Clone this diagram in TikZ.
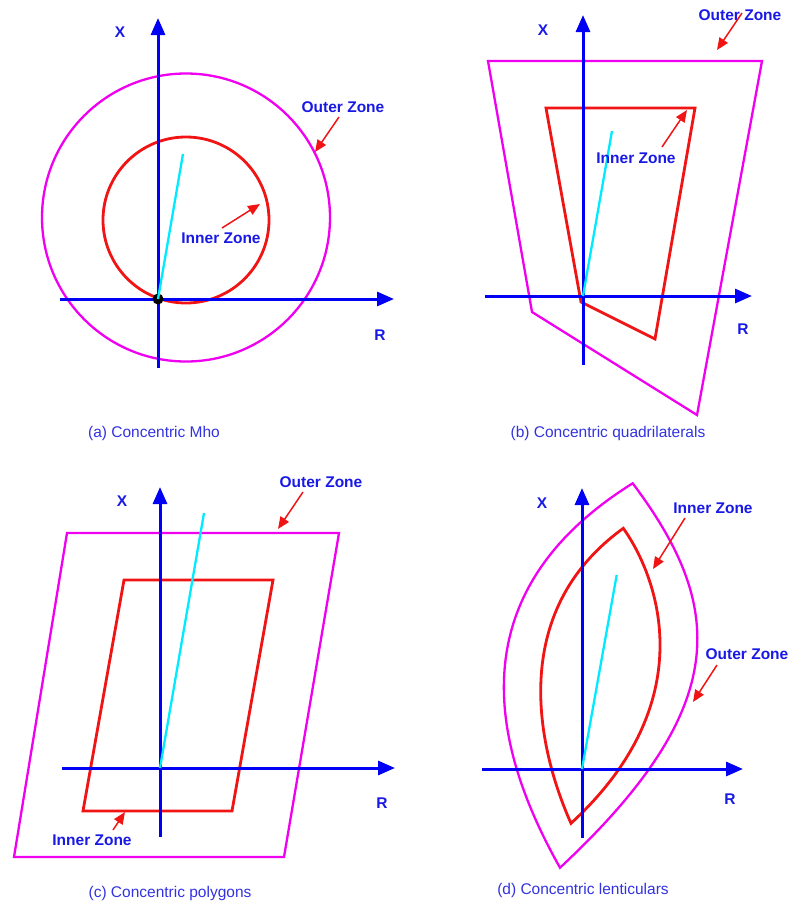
\documentclass[tikz,border=0pt]{standalone}
\usepackage{fontspec}
\setmainfont{Liberation Sans}
\usetikzlibrary{arrows.meta}
\definecolor{axisblue}{RGB}{0,0,245}
\definecolor{txtblue}{RGB}{25,25,230}
\definecolor{capblue}{RGB}{50,50,225}
\definecolor{outmag}{RGB}{240,0,240}
\definecolor{inred}{RGB}{240,20,20}
\definecolor{cyanln}{RGB}{0,235,255}
\tikzset{
  axisln/.style={axisblue,line width=3pt,-{Triangle[length=17pt,width=14pt]}},
  outerln/.style={outmag,line width=2.3pt,line join=miter},
  innerln/.style={inred,line width=2.8pt,line join=miter},
  impln/.style={cyanln,line width=2.3pt},
  lbltxt/.style={text=txtblue,font=\fontsize{15.5}{17}\selectfont\bfseries,inner sep=0pt},
  axtxt/.style={text=txtblue,font=\fontsize{15.5}{17}\selectfont\bfseries,inner sep=0pt},
  captxt/.style={text=capblue,font=\fontsize{15.5}{17}\selectfont,inner sep=0pt},
  ptrln/.style={inred,line width=1.5pt,-{Triangle[length=12pt,width=10pt]}}
}
\begin{document}
\begin{tikzpicture}[x=1pt,y=-1pt]
\useasboundingbox (0,0) rectangle (790,903);
%% ---------- (a) Concentric Mho ----------
\coordinate (aO) at (158,299);
\coordinate (aYb) at (158,368);
\coordinate (aYt) at (158,18);
\coordinate (aXl) at (60,299);
\coordinate (aXr) at (394,299);
\coordinate (aOC) at (186,217.5);
\coordinate (aIC) at (186,220);
\coordinate (aImp) at (183,154);
\draw[outerln] (aOC) circle (144);
\draw[innerln] (aIC) circle (83);
\draw[axisln] (aYb) -- (aYt);
\draw[axisln] (aXl) -- (aXr);
\fill[black] (aO) circle (5.5);
\draw[impln] (aO) -- (aImp);
\node[axtxt] (aX) at (120,32) {X};
\node[axtxt] (aR) at (380,335) {R};
\node[lbltxt] (aOut) at (343,107) {Outer Zone};
\node[lbltxt] (aIn) at (221,238) {Inner Zone};
\coordinate (aOs) at (339,117);
\coordinate (aOe) at (315,152);
\coordinate (aIs) at (222,228);
\coordinate (aIe) at (260,204);
\draw[ptrln] (aOs) -- (aOe);
\draw[ptrln] (aIs) -- (aIe);
\node[captxt] (aCap) at (154,433) {(a) Concentric Mho};
%% ---------- (b) Concentric quadrilaterals ----------
\coordinate (bO) at (583,296);
\coordinate (bYb) at (583,365);
\coordinate (bYt) at (583,15);
\coordinate (bXl) at (485,296);
\coordinate (bXr) at (752,296);
\coordinate (bo1) at (488,61);
\coordinate (bo2) at (762,61);
\coordinate (bo3) at (697,415);
\coordinate (bo4) at (532,312);
\coordinate (bi1) at (546,108);
\coordinate (bi2) at (695,108);
\coordinate (bi3) at (655,339);
\coordinate (bi4) at (581,302);
\coordinate (bImp) at (612,131);
\draw[outerln] (bo1) -- (bo2) -- (bo3) -- (bo4) -- cycle;
\draw[innerln] (bi1) -- (bi2) -- (bi3) -- (bi4) -- cycle;
\draw[axisln] (bYb) -- (bYt);
\draw[axisln] (bXl) -- (bXr);
\draw[impln] (bO) -- (bImp);
\node[axtxt] (bX) at (543,30) {X};
\node[axtxt] (bR) at (743,329) {R};
\node[lbltxt] (bOut) at (740,15) {Outer Zone};
\node[lbltxt] (bIn) at (636,158) {Inner Zone};
\coordinate (bOs) at (742,13);
\coordinate (bOe) at (717,50);
\coordinate (bIs) at (662,147);
\coordinate (bIe) at (687,110);
\draw[ptrln] (bOs) -- (bOe);
\draw[ptrln] (bIs) -- (bIe);
\node[captxt] (bCap) at (608,433) {(b) Concentric quadrilaterals};
%% ---------- (c) Concentric polygons ----------
\coordinate (cO) at (160,768);
\coordinate (cYb) at (160,837);
\coordinate (cYt) at (160,487);
\coordinate (cXl) at (62,768);
\coordinate (cXr) at (395,768);
\coordinate (co1) at (67,533);
\coordinate (co2) at (339,533);
\coordinate (co3) at (284,857);
\coordinate (co4) at (14,857);
\coordinate (ci1) at (124,580);
\coordinate (ci2) at (273,580);
\coordinate (ci3) at (232,811);
\coordinate (ci4) at (83,811);
\coordinate (cImp) at (204,513);
\draw[outerln] (co1) -- (co2) -- (co3) -- (co4) -- cycle;
\draw[innerln] (ci1) -- (ci2) -- (ci3) -- (ci4) -- cycle;
\draw[axisln] (cYb) -- (cYt);
\draw[axisln] (cXl) -- (cXr);
\draw[impln] (cO) -- (cImp);
\node[axtxt] (cX) at (122,501) {X};
\node[axtxt] (cR) at (382,803) {R};
\node[lbltxt] (cOut) at (321,482) {Outer Zone};
\node[lbltxt] (cIn) at (92,840) {Inner Zone};
\coordinate (cOs) at (303,492);
\coordinate (cOe) at (278,529);
\coordinate (cIs) at (113,830);
\coordinate (cIe) at (125,812);
\draw[ptrln] (cOs) -- (cOe);
\draw[ptrln] (cIs) -- (cIe);
\node[captxt] (cCap) at (170,893) {(c) Concentric polygons};
%% ---------- (d) Concentric lenticulars ----------
\coordinate (dO) at (582,769);
\coordinate (dYb) at (582,838);
\coordinate (dYt) at (582,488);
\coordinate (dXl) at (482,769);
\coordinate (dXr) at (743,769);
\coordinate (doT) at (632.7,483.3);
\coordinate (doB) at (560,867.7);
\coordinate (diT) at (623.3,528.3);
\coordinate (diB) at (571,823.3);
\coordinate (dImp) at (616.7,575);
\draw[outerln] (doT) .. controls (723.7,604.7) and (734.7,705) .. (doB)
             .. controls (501,762.9) and (445.4,600.1) .. (doT) -- cycle;
\draw[innerln] (diT) .. controls (659.9,580) and (701.9,702.9) .. (diB)
             .. controls (538.2,750) and (506.3,612.8) .. (diT) -- cycle;
\draw[axisln] (dYb) -- (dYt);
\draw[axisln] (dXl) -- (dXr);
\draw[impln] (dO) -- (dImp);
\node[axtxt] (dX) at (542,503) {X};
\node[axtxt] (dR) at (730,799) {R};
\node[lbltxt] (dIn) at (713,508) {Inner Zone};
\node[lbltxt] (dOut) at (747,654) {Outer Zone};
\coordinate (dIs) at (685,518);
\coordinate (dIe) at (653,569);
\coordinate (dOs) at (717,665);
\coordinate (dOe) at (693,702);
\draw[ptrln] (dIs) -- (dIe);
\draw[ptrln] (dOs) -- (dOe);
\node[captxt] (dCap) at (583,890) {(d) Concentric lenticulars};
\end{tikzpicture}
\end{document}
